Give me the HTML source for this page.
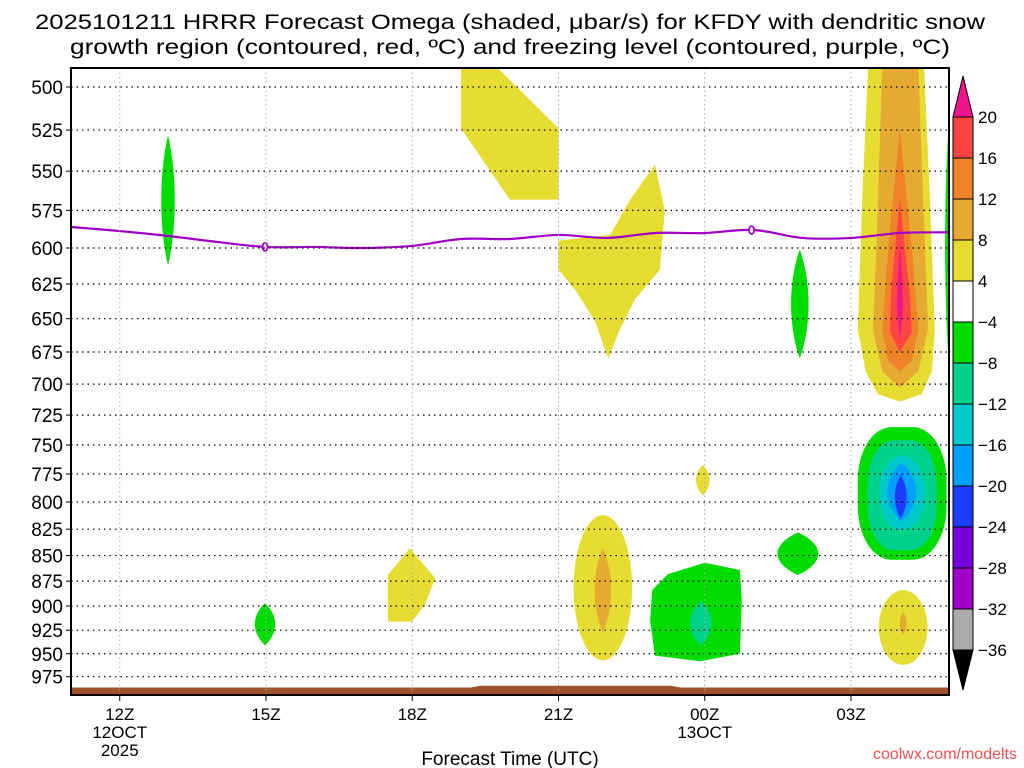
<!DOCTYPE html>
<html><head><meta charset="utf-8"><style>
html,body{margin:0;padding:0;background:#fff;}
svg{display:block;font-family:"Liberation Sans",sans-serif;}
</style></head><body>
<svg id="chart" width="1024" height="768" viewBox="0 0 1024 768" xmlns="http://www.w3.org/2000/svg">
<text x="510" y="29" font-size="21" text-anchor="middle" textLength="950" lengthAdjust="spacingAndGlyphs">2025101211 HRRR Forecast Omega (shaded, μbar/s) for KFDY with dendritic snow</text>
<text x="510" y="54" font-size="21" text-anchor="middle" textLength="880" lengthAdjust="spacingAndGlyphs">growth region (contoured, red, ºC) and freezing level (contoured, purple, ºC)</text>
<g id="plot"></g>
<g id="axes"></g>
<g id="cbar"></g>
<text x="510" y="765" font-size="19" text-anchor="middle">Forecast Time (UTC)</text>
<text x="1017" y="759" font-size="16" fill="#f05050" text-anchor="end">coolwx.com/modelts</text>
</svg>
<script>
const pressureTicks=[500,525,550,575,600,625,650,675,700,725,750,775,800,825,850,875,900,925,950,975];
const timeTickHours=[1,4,7,10,13,16];
const timeTickLabels=[["12Z","12OCT","2025"],["15Z"],["18Z"],["21Z"],["00Z","13OCT"],["03Z"]];
const cbarLevels=[20,16,12,8,4,-4,-8,-12,-16,-20,-24,-28,-32,-36];
const cbarColors=["#ff4444","#f08228","#e6aa32","#e6dc32","#ffffff","#00dc00","#00d28c","#00c8c8","#00a0ff","#1e3cff","#7800dc","#a000c8","#aaaaaa"];
const freezeHours=[0,1,2,3,4,5,6,7,8,9,10,11,12,13,14,15,16,17,18];
const freezeP=[585.9,588.6,591.9,595.9,599.3,599.3,600,598.6,593.9,593.9,591.2,593.2,589.9,589.9,587.9,593.2,593.2,589.9,589.4];
const freezeLabelHours=[3.98,13.96];
const sfcHours=[0,8.2,8.4,12.3,12.5,18];
const sfcP=[987,987,985,985,987,987];
const polyShapes=[
 ["#e6dc32",[[8,489],[8.74,489],[10,524],[10,568],[9,568],[8,524]]],
 ["#e6dc32",[[10,595],[11.06,591],[11.47,568],[11.98,546],[12.18,575],[12.08,615],[11.57,636],[11.26,658],[11.02,680],[10.75,652],[10.34,629],[10,615]]],
 ["#e6dc32",[[6.5,869],[6.95,843],[7.47,872],[7.26,899],[6.99,916],[6.5,916]]],
 ["#00dc00",[[11.92,884],[12.25,868],[13.0,857],[13.72,864],[13.76,894],[13.72,950],[12.9,958],[11.98,952],[11.88,916]]],
 ["#e6dc32",[[16.35,489],[17.5,489],[17.62,568],[17.72,658],[17.66,690],[17.45,708],[17.0,714],[16.55,708],[16.3,690],[16.14,658],[16.23,568]]],
 ["#e6aa32",[[16.64,489],[17.38,489],[17.52,601],[17.58,658],[17.38,690],[17.0,703],[16.64,690],[16.45,658],[16.52,601]]],
 ["#f08228",[[17.0,524],[17.25,601],[17.38,658],[17.25,682],[17.0,690],[16.76,682],[16.64,658],[16.76,601]]],
 ["#ff4444",[[17.0,568],[17.2,630],[17.25,660],[17.0,675],[16.8,660],[16.82,630]]],
 ["#f0148c",[[17.0,595],[17.07,640],[17.0,666],[16.94,640]]]
];
const blobShapes=[
 ["rrect","#00dc00",17.05,0.91,735,854],
 ["rrect","#00d28c",17.05,0.71,746,845],
 ["ellipse","#00c8c8",17.05,0.47,759,826],
 ["lens","#00a0ff",17.04,0.3,765,818],
 ["lens","#1e3cff",17.02,0.12,776,815],
 ["lens","#00dc00",1.99,0.14,528,612],
 ["lens","#00dc00",3.98,0.21,897,941],
 ["lens","#00dc00",14.95,0.18,601,680],
 ["lens","#00dc00",14.91,0.42,828,869],
 ["lens","#00dc00",18.0,0.07,524,680],
 ["lens","#e6dc32",12.96,0.14,767,794],
 ["ellipse","#e6dc32",17.07,0.5,884,962],
 ["lens","#e6aa32",17.07,0.07,906,930],
 ["ellipse","#e6dc32",10.91,0.6,812,957],
 ["lens","#e6aa32",10.91,0.17,843,927],
 ["lens","#00d28c",12.92,0.22,895,941]
];
const NS="http://www.w3.org/2000/svg";
const L=71,R=949,T=68,B=695;
function xs(h){return L+48.75*h;}
function ys(p){return 87+883*Math.log(p/500);}
function mk(tag,attrs,parent){const e=document.createElementNS(NS,tag);for(const k in attrs)e.setAttribute(k,attrs[k]);parent.appendChild(e);return e;}
const plot=document.getElementById('plot'),axes=document.getElementById('axes'),cbar=document.getElementById('cbar');
const clip=mk('clipPath',{id:'pc'},mk('defs',{},document.getElementById('chart')));
mk('rect',{x:L,y:T,width:R-L,height:B-T},clip);
const g=mk('g',{'clip-path':'url(#pc)'},plot);
polyShapes.forEach((s,i)=>{
 const e=mk('polygon',{points:s[1].map(q=>xs(q[0]).toFixed(1)+','+ys(q[1]).toFixed(1)).join(' '),fill:s[0]},g);
 
 
});
blobShapes.forEach(s=>{
 const cx=xs(s[2]),w=s[3]*48.75,t=ys(s[4]),b=ys(s[5]);let e;
 if(s[0]==='ellipse'){e=mk('ellipse',{cx:cx,cy:(t+b)/2,rx:w,ry:(b-t)/2,fill:s[1]},g);}
 else if(s[0]==='rrect'){e=mk('rect',{x:cx-w,y:t,width:2*w,height:b-t,rx:w*0.75,ry:(b-t)*0.4,fill:s[1]},g);}
 else{const hh=b-t;const k=1.33*w;
  e=mk('path',{d:`M${cx},${t} C${cx+k},${t+hh*0.3} ${cx+k},${b-hh*0.3} ${cx},${b} C${cx-k},${b-hh*0.3} ${cx-k},${t+hh*0.3} ${cx},${t}Z`,fill:s[1]},g);}
 
 
});
pressureTicks.forEach(p=>{
 const y=ys(p);
 const ln=mk('line',{x1:L,x2:R,y1:y,y2:y,stroke:'#000','stroke-width':1.2,'stroke-dasharray':'1.5 4'},plot);
 
 
 const tk=mk('line',{x1:L-5,x2:L,y1:y,y2:y,stroke:'#000'},axes);
 
 
 const tx=mk('text',{x:L-8,y:y+7,'font-size':19,'text-anchor':'end'},axes);tx.textContent=p;
 
 
});
timeTickHours.forEach((h,i)=>{
 const x=xs(h);
 const ln=mk('line',{x1:x,x2:x,y1:T,y2:B,stroke:'#aaa','stroke-width':1,'stroke-dasharray':'1.5 3'},plot);
 
 
 const tk=mk('line',{x1:x,x2:x,y1:B,y2:B+6,stroke:'#000'},axes);
 
 
 timeTickLabels[i].forEach((s,j)=>{
  const tx=mk('text',{x:x,y:B+25+j*18,'font-size':17,'text-anchor':'middle'},axes);tx.textContent=s;
  
  
 });
});
let d=`M${xs(sfcHours[0])},${B}`;sfcHours.forEach((h,i)=>{d+=` L${xs(h)},${ys(sfcP[i])}`;});d+=` L${xs(sfcHours[sfcHours.length-1])},${B}Z`;
const sf=mk('path',{d:d,fill:'#a0522d'},g);


// smooth freezing line (catmull-rom)
const pts=freezeHours.map((h,i)=>[xs(h),ys(freezeP[i])]);
let fd=`M${pts[0][0]},${pts[0][1]}`;
for(let i=0;i<pts.length-1;i++){
 const p0=pts[Math.max(0,i-1)],p1=pts[i],p2=pts[i+1],p3=pts[Math.min(pts.length-1,i+2)];
 fd+=` C${p1[0]+(p2[0]-p0[0])/6},${p1[1]+(p2[1]-p0[1])/6} ${p2[0]-(p3[0]-p1[0])/6},${p2[1]-(p3[1]-p1[1])/6} ${p2[0]},${p2[1]}`;
}
const fl=mk('path',{d:fd,fill:'none',stroke:'#a000c8','stroke-width':2.2},g);


freezeLabelHours.forEach(h=>{
 let i=Math.min(freezeHours.length-2,Math.floor(h));const f=h-freezeHours[i];const p=freezeP[i]+(freezeP[i+1]-freezeP[i])*f;
 const lb=mk('ellipse',{cx:xs(h),cy:ys(p),rx:2.5,ry:4,fill:'#fff',stroke:'#a000c8','stroke-width':1.8},g);
 
 
});
const fr=mk('rect',{x:L,y:T,width:R-L,height:B-T,fill:'none',stroke:'#000','stroke-width':2},axes);


const cx0=953,cw=20,c0=117,step=41;
function cy(i){return c0+i*step;}
const tt=mk('polygon',{points:`${cx0},${c0} ${cx0+cw},${c0} ${cx0+cw/2},${76}`,fill:'#f0148c',stroke:'#000'},cbar);


cbarColors.forEach((c,i)=>{
 const r=mk('rect',{x:cx0,y:cy(i),width:cw,height:step,fill:c,stroke:'#000','stroke-width':1},cbar);
 
 
});
const bt=mk('polygon',{points:`${cx0},${cy(13)} ${cx0+cw},${cy(13)} ${cx0+cw/2},${690}`,fill:'#000',stroke:'#000'},cbar);


cbarLevels.forEach((v,i)=>{
 const t=mk('text',{x:978,y:cy(i)+6,'font-size':17},cbar);t.textContent=v<0?'−'+(-v):String(v);
 
 
});
</script>
</body></html>
